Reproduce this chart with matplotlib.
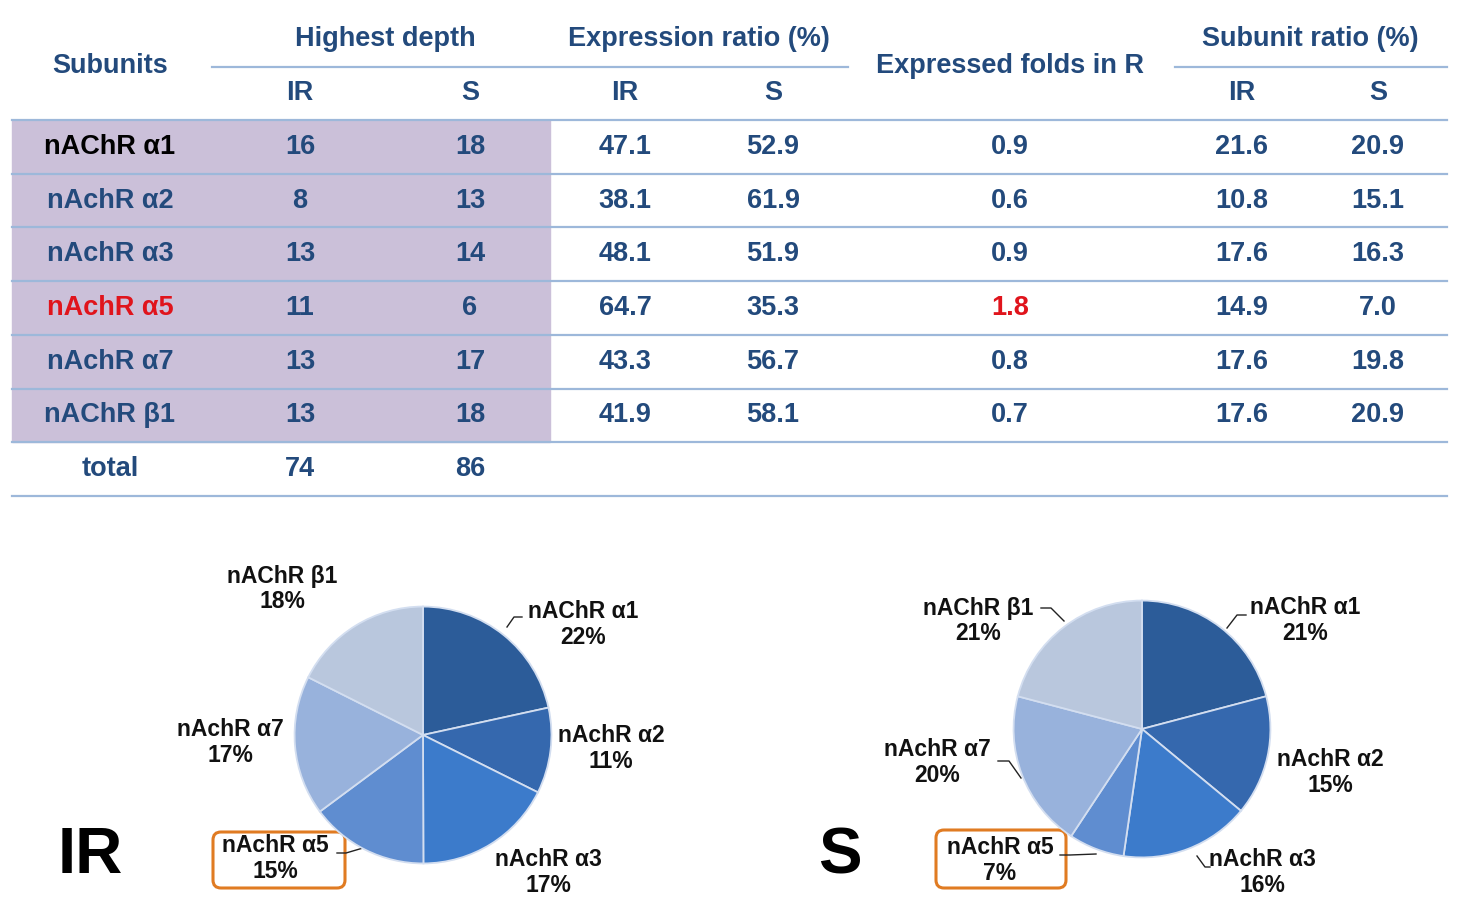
import matplotlib.pyplot as plt
from matplotlib.patches import FancyBboxPatch, Rectangle

plt.rcParams['font.family'] = ['Liberation Sans', 'DejaVu Sans']
plt.rcParams['font.weight'] = 'bold'

# table data
subunits = ["nAChR α1", "nAchR α2", "nAchR α3", "nAchR α5", "nAchR α7", "nAChR β1"]
depth_ir = [16, 8, 13, 11, 13, 13]
depth_s = [18, 13, 14, 6, 17, 18]
expr_ir = [47.1, 38.1, 48.1, 64.7, 43.3, 41.9]
expr_s = [52.9, 61.9, 51.9, 35.3, 56.7, 58.1]
folds = [0.9, 0.6, 0.9, 1.8, 0.8, 0.7]
ratio_ir = [21.6, 10.8, 17.6, 14.9, 17.6, 17.6]
ratio_s = [20.9, 15.1, 16.3, 7.0, 19.8, 20.9]
total_ir = 74
total_s = 86

# pie labels (as printed on the chart)
pie_names = ["nAChR α1", "nAchR α2", "nAchR α3", "nAchR α5", "nAchR α7", "nAChR β1"]
ir_pct = [22, 11, 17, 15, 17, 18]
s_pct = [21, 15, 16, 7, 20, 21]

W, H = 1460, 909
navy = '#234a7c'
red = '#e0141c'
grid = '#9db8da'
purple = '#cbc0d9'
orange = '#e07b22'
slice_colors = ['#2c5c99', '#3568ae', '#3c7bcb', '#5f8dd0', '#98b2dc', '#b9c7dd']

fig = plt.figure(figsize=(W / 100, H / 100), dpi=100)
ax = fig.add_axes([0, 0, 1, 1])
ax.set_xlim(0, W)
ax.set_ylim(H, 0)
ax.axis('off')

fs = 19.5
cols = [110, 300, 470, 625, 773, 1010, 1242, 1378]
row_top = 120
row_h = 53.7

# purple block
ax.add_patch(Rectangle((12, row_top), 538, row_h * 6, color=purple, zorder=0))

# horizontal rules
for i in range(8):
    y = row_top + i * row_h
    ax.plot([12, 1447], [y, y], color=grid, lw=1.6, zorder=1)
ax.plot([212, 848], [67, 67], color=grid, lw=1.6)
ax.plot([1175, 1447], [67, 67], color=grid, lw=1.6)

# headers
hdr = dict(color=navy, fontsize=fs, ha='center', va='center')
ax.text(cols[0], 66, "Subunits", **hdr)
ax.text((cols[1] + cols[2]) / 2, 39, "Highest depth", **hdr)
ax.text((cols[3] + cols[4]) / 2, 39, "Expression ratio (%)", **hdr)
ax.text(cols[5], 66, "Expressed folds in R", **hdr)
ax.text((cols[6] + cols[7]) / 2, 39, "Subunit ratio (%)", **hdr)
for c in [1, 3, 6]:
    ax.text(cols[c], 93, "IR", **hdr)
    ax.text(cols[c + 1], 93, "S", **hdr)

# body
for i, name in enumerate(subunits):
    y = row_top + (i + 0.5) * row_h
    ncol = 'black' if i == 0 else (red if i == 3 else navy)
    ax.text(cols[0], y, name, color=ncol, fontsize=fs, ha='center', va='center')
    vals = [f"{depth_ir[i]}", f"{depth_s[i]}", f"{expr_ir[i]:.1f}", f"{expr_s[i]:.1f}",
            f"{folds[i]:.1f}", f"{ratio_ir[i]:.1f}", f"{ratio_s[i]:.1f}"]
    for j, v in enumerate(vals):
        c = red if (i == 3 and j == 4) else navy
        ax.text(cols[j + 1], y, v, color=c, fontsize=fs, ha='center', va='center')
y = row_top + 6.5 * row_h
ax.text(cols[0], y, "total", **hdr)
ax.text(cols[1], y, str(total_ir), **hdr)
ax.text(cols[2], y, str(total_s), **hdr)


def pie_axes(cx, cy, r):
    a = fig.add_axes([(cx - r) / W, (H - cy - r) / H, 2 * r / W, 2 * r / H])
    a.axis('off')
    return a


def draw_pie(cx, cy, r, vals):
    a = pie_axes(cx, cy, r)
    a.pie(vals, colors=slice_colors, startangle=90, counterclock=False, radius=1,
          wedgeprops=dict(edgecolor='#d3def0', linewidth=1.3))
    a.set_xlim(-1.02, 1.02)
    a.set_ylim(-1.02, 1.02)


lf = 16.5


def label(x, y, name, pct):
    ax.text(x, y, name, color='#111111', fontsize=lf, ha='center', va='center')
    ax.text(x, y + 26, f"{pct}%", color='#111111', fontsize=lf, ha='center', va='center')


# IR pie
draw_pie(423, 735, 131, ratio_ir)
ir_pos = [(583, 612), (611, 735), (548, 860), (275, 845), (230, 730), (282, 576)]
for (x, y), n, p in zip(ir_pos, pie_names, ir_pct):
    label(x, y, n, p)
ax.plot([507, 514, 522], [627, 617, 617], color='#222222', lw=1)
ax.plot([337, 346, 363], [853, 853, 848], color='#222222', lw=1)
ax.add_patch(FancyBboxPatch((213, 832), 132, 56, boxstyle="round,pad=0,rounding_size=8",
                            fill=False, edgecolor=orange, lw=2.2))

# S pie
draw_pie(1142, 729, 131, ratio_s)
s_pos = [(1305, 608), (1330, 760), (1262, 860), (1000, 848), (937, 750), (978, 608)]
for (x, y), n, p in zip(s_pos, pie_names, s_pct):
    label(x, y, n, p)
ax.plot([1227, 1237, 1246], [628, 615, 615], color='#222222', lw=1)
ax.plot([1041, 1051, 1064], [608, 608, 621], color='#222222', lw=1)
ax.plot([998, 1009, 1021], [761, 761, 778], color='#222222', lw=1)
ax.plot([1060, 1070, 1096], [855, 855, 854], color='#222222', lw=1)
ax.plot([1197, 1205, 1210], [856, 867, 867], color='#222222', lw=1)
ax.add_patch(FancyBboxPatch((936, 830), 130, 58, boxstyle="round,pad=0,rounding_size=8",
                            fill=False, edgecolor=orange, lw=2.2))

ax.text(90, 856, "IR", color='black', fontsize=47, ha='center', va='center')
ax.text(840, 856, "S", color='black', fontsize=47, ha='center', va='center')

fig.savefig("out.png", dpi=100)
